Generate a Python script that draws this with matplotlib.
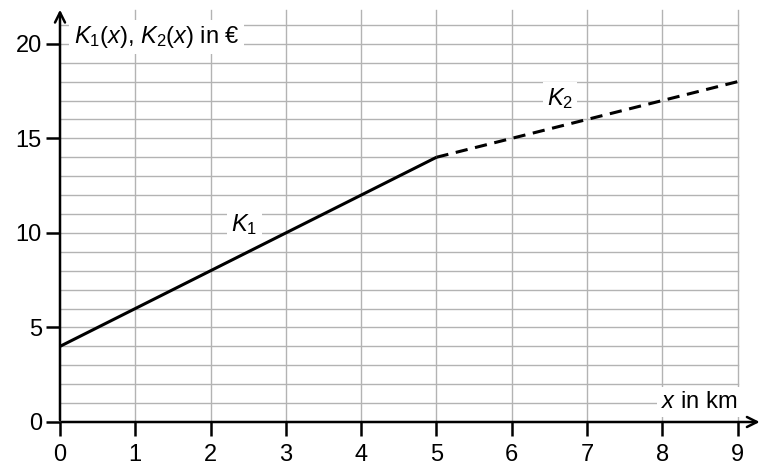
import matplotlib.pyplot as plt
import numpy as np

# data
x_k1 = [0, 5]
y_k1 = [4, 14]
x_k2 = [5, 9]
y_k2 = [14, 18]
x_ticks = [0, 1, 2, 3, 4, 5, 6, 7, 8, 9]
y_ticks = [0, 5, 10, 15, 20]

plt.rcParams['font.family'] = ['Liberation Sans', 'DejaVu Sans']
plt.rcParams['mathtext.fontset'] = 'custom'
plt.rcParams['mathtext.rm'] = 'Liberation Sans'
plt.rcParams['mathtext.it'] = 'Liberation Sans:italic'

fig = plt.figure(figsize=(7.64, 4.67), dpi=100)
ax = fig.add_axes([60 / 764, 45 / 467, 704 / 764, 416 / 467])
ax.set_xlim(0, 9.35)
ax.set_ylim(0, 22)

# grid: vertical every 1, horizontal every 1
for gx in range(1, 10):
    ax.plot([gx, gx], [0, 21.8], color='#b3b3b3', lw=1, zorder=1)
for gy in range(1, 22):
    ax.plot([0, 9], [gy, gy], color='#b3b3b3', lw=1, zorder=1)

for s in ax.spines.values():
    s.set_visible(False)

# axes with arrows
ax.annotate('', xy=(9.33, 0), xytext=(-0.02, 0),
            arrowprops=dict(arrowstyle='->', lw=1.8, color='black', mutation_scale=18),
            annotation_clip=False, zorder=5)
ax.annotate('', xy=(0, 21.95), xytext=(0, -0.05),
            arrowprops=dict(arrowstyle='->', lw=1.8, color='black', mutation_scale=18),
            annotation_clip=False, zorder=5)

ax.set_xticks(x_ticks)
ax.set_yticks(y_ticks)
ax.set_xticklabels([str(t) for t in x_ticks])
ax.set_yticklabels([str(t) for t in y_ticks])
ax.tick_params(axis='both', length=10, width=1.8, labelsize=17, color='black', direction='out')
ax.tick_params(axis='x', pad=6)
ax.tick_params(axis='y', pad=3)

ax.plot(x_k1, y_k1, color='black', lw=2.2, zorder=4, solid_capstyle='butt')
ax.plot(x_k2, y_k2, color='black', lw=2.2, ls=(0, (4, 2.5)), zorder=4)

box = dict(facecolor='white', edgecolor='none', pad=3)
ax.text(0.18, 20.35, r'$K_1(x)$, $K_2(x)$ in €', fontsize=17, va='center', ha='left',
        bbox=box, zorder=3)
ax.text(9.0, 1.05, r'$x$ in km', fontsize=17, va='center', ha='right', bbox=box, zorder=3)
ax.text(2.45, 10.45, r'$K_1$', fontsize=17, va='center', ha='center', bbox=box, zorder=3)
ax.text(6.64, 17.1, r'$K_2$', fontsize=17, va='center', ha='center', bbox=box, zorder=3)

fig.savefig('out.png', dpi=100)
